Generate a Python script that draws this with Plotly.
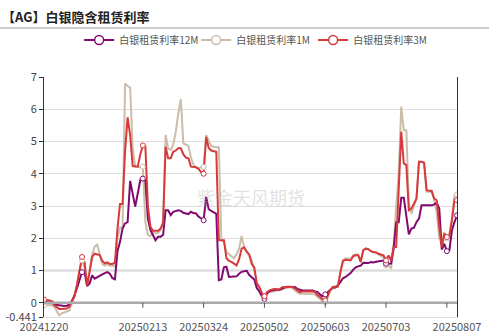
import plotly.graph_objects as go

# ---------------- data ----------------
tick_labels = ["20241220", "20250213", "20250324", "20250502", "20250603", "20250703", "20250807"]
tick_label_idx = [0, 39, 63, 87, 111, 135, 163]
tick_mark_idx = [39, 63, 87, 111, 135, 159]
marker_idx = [0, 15, 39, 63, 87, 111, 135, 159, 163]

rate_12m = [
    0.04, 0.06, 0.07, 0.04, -0.02, -0.06, -0.08, -0.10, -0.10, -0.09,
    -0.06, 0.06, 0.22, 0.45, 0.70, 0.95, 0.95, 0.52, 0.60, 0.85,
    0.75, 0.80, 0.83, 0.88, 0.92, 0.95, 0.90, 0.76, 0.73, 1.60,
    1.89, 2.30, 2.46, 2.50, 3.78, 3.39, 2.98, 3.39, 3.80, 3.85,
    3.80, 2.60, 2.25, 2.10, 1.94, 2.05, 2.05, 2.10, 2.87, 2.87,
    2.72, 2.82, 2.85, 2.87, 2.85, 2.79, 2.77, 2.75, 2.82, 2.78,
    2.77, 2.67, 2.62, 2.56, 3.28, 2.90, 2.85, 2.80, 2.76, 0.70,
    0.72, 1.10, 1.12, 0.80, 0.80, 0.80, 0.82, 0.90, 0.96, 0.98,
    0.99, 0.86, 0.80, 0.72, 0.45, 0.35, 0.20, 0.12, 0.28, 0.36,
    0.38, 0.40, 0.42, 0.40, 0.45, 0.48, 0.50, 0.50, 0.51, 0.49,
    0.43, 0.40, 0.38, 0.38, 0.38, 0.37, 0.38, 0.35, 0.33, 0.25,
    0.20, 0.26, 0.33, 0.42, 0.47, 0.47, 0.54, 0.65, 0.76, 0.80,
    0.85, 0.92, 1.02, 1.10, 1.13, 1.15, 1.24, 1.24, 1.23, 1.26,
    1.25, 1.27, 1.29, 1.30, 1.31, 1.21, 1.22, 1.22, 1.68, 2.50,
    2.50, 3.26, 3.26, 2.76, 2.12, 2.30, 2.33, 2.50, 2.61, 3.02,
    3.02, 3.02, 3.02, 3.02, 3.05, 3.10, 2.92, 1.65, 1.83, 1.60,
    1.63, 2.25, 2.50, 2.71,
]

rate_1m = [
    -0.08, -0.08, -0.08, -0.07, -0.12, -0.24, -0.39, -0.33, -0.29, -0.27,
    -0.24, -0.02, 0.20, 0.55, 1.00, 1.31, 1.10, 0.54, 1.00, 1.50,
    1.74, 1.80, 1.50, 1.20, 1.15, 1.20, 1.15, 1.15, 1.12, 2.00,
    2.33, 2.33, 6.80, 6.72, 6.68, 4.80, 4.22, 4.20, 4.20, 4.22,
    2.50, 2.10, 2.07, 2.20, 2.15, 2.17, 2.25, 2.56, 5.20, 4.79,
    4.74, 4.90, 5.30, 5.87, 6.31, 4.94, 4.89, 4.86, 4.50, 4.27,
    4.20, 4.17, 4.20, 4.21, 5.20, 5.05, 4.86, 4.84, 4.83, 4.82,
    1.94, 1.90, 1.57, 1.50, 1.43, 1.38, 1.50, 1.68, 2.07, 1.70,
    1.60, 1.45, 1.31, 1.00, 0.59, 0.40, 0.28, 0.20, 0.33, 0.33,
    0.35, 0.36, 0.38, 0.40, 0.43, 0.45, 0.47, 0.49, 0.45, 0.38,
    0.32, 0.28, 0.28, 0.28, 0.28, 0.28, 0.27, 0.25, 0.18, 0.12,
    0.05, 0.02, 0.15, 0.38, 0.45, 0.47, 0.50, 1.00, 1.30, 1.38,
    1.38, 1.35, 1.48, 1.50, 1.50, 1.30, 1.62, 1.68, 1.67, 1.60,
    1.58, 1.55, 1.50, 1.45, 1.40, 1.16, 1.15, 1.06, 1.83, 3.00,
    4.00, 6.08, 5.35, 5.35, 3.07, 2.76, 3.02, 3.23, 4.37, 4.37,
    4.34, 3.44, 3.44, 3.44, 3.18, 2.82, 1.99, 1.83, 2.19, 1.99,
    2.10, 2.60, 3.33, 3.36,
]

rate_3m = [
    0.10, 0.08, 0.07, 0.05, -0.08, -0.15, -0.19, -0.19, -0.19, -0.18,
    -0.12, 0.02, 0.20, 0.55, 1.05, 1.42, 1.26, 0.54, 0.95, 1.42,
    1.52, 1.50, 1.48, 1.30, 1.22, 1.25, 1.20, 1.20, 1.25, 2.30,
    3.06, 3.06, 4.70, 5.75, 5.20, 4.24, 4.22, 4.22, 4.60, 4.88,
    4.86, 3.00, 2.36, 2.23, 2.23, 2.23, 2.30, 2.46, 4.84, 4.48,
    4.48, 4.68, 4.72, 4.79, 4.79, 4.60, 4.50, 4.48, 4.22, 4.20,
    4.20, 4.15, 4.05, 4.00, 5.14, 4.80, 4.72, 4.70, 4.68, 1.94,
    1.94, 1.94, 1.38, 1.30, 1.27, 1.20, 1.16, 1.35, 1.68, 1.72,
    1.58, 1.50, 1.20, 1.10, 0.60, 0.49, 0.30, 0.20, 0.33, 0.38,
    0.40, 0.43, 0.40, 0.42, 0.48, 0.49, 0.50, 0.49, 0.49, 0.45,
    0.38, 0.33, 0.35, 0.36, 0.36, 0.36, 0.35, 0.33, 0.23, 0.18,
    0.10, 0.07, 0.23, 0.40, 0.49, 0.49, 0.51, 0.95, 1.30, 1.33,
    1.33, 1.31, 1.44, 1.47, 1.47, 1.26, 1.63, 1.68, 1.66, 1.60,
    1.57, 1.57, 1.52, 1.50, 1.47, 1.31, 1.47, 1.31, 1.73, 1.73,
    3.50, 5.30, 4.32, 4.27, 2.87, 2.92, 3.07, 3.23, 4.37, 4.37,
    4.34, 3.49, 3.47, 3.47, 3.23, 3.18, 2.35, 1.73, 2.14, 2.04,
    2.09, 2.56, 3.18, 3.18,
]

series = [
    ("白银租赁利率12M", rate_12m, "#800a6f"),
    ("白银租赁利率1M", rate_1m, "#cbbda9"),
    ("白银租赁利率3M", rate_3m, "#d63a3a"),
]

y_min, y_max = -0.441, 7
y_ticks = [y_min, 0, 1, 2, 3, 4, 5, 6, 7]
y_ticktext = ["-0.441", "0", "1", "2", "3", "4", "5", "6", "7"]

# ---------------- figure ----------------
W, H = 489, 335
ML, MR, MT, MB = 44, 32, 77, 18
FONT = "Noto Sans CJK SC, Microsoft YaHei, sans-serif"

fig = go.Figure()
n = len(rate_12m)
xs = list(range(n))

draw_order = [series[1], series[0], series[2]]
for name, vals, col in draw_order:
    fig.add_trace(go.Scatter(x=xs, y=vals, mode="lines", line=dict(color=col, width=2),
                             showlegend=False, hoverinfo="skip"))
for name, vals, col in draw_order:
    fig.add_trace(go.Scatter(x=marker_idx, y=[vals[i] for i in marker_idx], mode="markers",
                             marker=dict(symbol="circle", size=5, color="white",
                                         line=dict(color=col, width=1)),
                             showlegend=False, hoverinfo="skip"))
for name, vals, col in series:
    fig.add_trace(go.Scatter(x=[None], y=[None], mode="lines+markers", name=name,
                             line=dict(color=col, width=2),
                             marker=dict(symbol="circle", size=9, color="white",
                                         line=dict(color=col, width=1.5))))

ph = H - MT - MB
pw = W - ML - MR
shapes = []
shapes.append(dict(type="line", xref="paper", yref="y", x0=0, x1=1, y0=1, y1=1,
                   line=dict(color="#e6e6e6", width=3), layer="below"))
shapes.append(dict(type="line", xref="paper", yref="y", x0=0, x1=1, y0=0, y1=0,
                   line=dict(color="#aaaaaa", width=2.5), layer="above"))
for i in tick_mark_idx:
    shapes.append(dict(type="line", xref="x", yref="y", ysizemode="pixel", yanchor=0,
                       x0=i, x1=i, y0=0, y1=-5, line=dict(color="#555555", width=1)))
sep_y = (H - MB - 28) / ph
shapes.append(dict(type="line", xref="paper", yref="paper", x0=-ML / pw, x1=(W - ML) / pw,
                   y0=sep_y, y1=sep_y, line=dict(color="#999999", width=1)))

fig.update_layout(
    width=W, height=H,
    margin=dict(l=ML, r=MR, t=MT, b=MB, autoexpand=False),
    paper_bgcolor="white", plot_bgcolor="white",
    font=dict(family=FONT, size=11, color="#555555"),
    showlegend=True,
    legend=dict(orientation="h", x=0.51, xanchor="center", y=(H - MB - 40) / ph, yanchor="middle",
                font=dict(size=10, color="#555555"), itemwidth=30, tracegroupgap=0,
                entrywidth=72, bgcolor="rgba(0,0,0,0)"),
    shapes=shapes,
    annotations=[
        dict(text="<b>【AG】白银隐含租赁利率</b>", xref="paper", yref="paper",
             x=-ML / pw, y=(H - MB - 16) / ph, xanchor="left", yanchor="middle",
             showarrow=False, font=dict(size=13, color="#222222", family=FONT)),
        dict(text="紫金天风期货", xref="paper", yref="paper", x=0.5, y=0.5,
             xanchor="center", yanchor="middle", showarrow=False,
             font=dict(size=18, color="rgba(170,170,170,0.35)", family=FONT)),
    ],
    xaxis=dict(range=[0, n - 1], tickvals=tick_label_idx, ticktext=tick_labels,
               showgrid=False, zeroline=False, showline=True, linecolor="#dddddd", linewidth=1,
               ticks="", tickfont=dict(size=11, color="#555555"), fixedrange=True,
               automargin=False),
    yaxis=dict(range=[y_min, y_max], tickvals=y_ticks, ticktext=y_ticktext,
               showgrid=True, gridcolor="#dddddd", gridwidth=1, zeroline=False,
               showline=True, linecolor="#333333", linewidth=1, mirror=True,
               ticks="outside", ticklen=4, tickcolor="#333333",
               tickfont=dict(size=11, color="#444444"), fixedrange=True,
               automargin=False),
)

fig.write_html("out.html")
